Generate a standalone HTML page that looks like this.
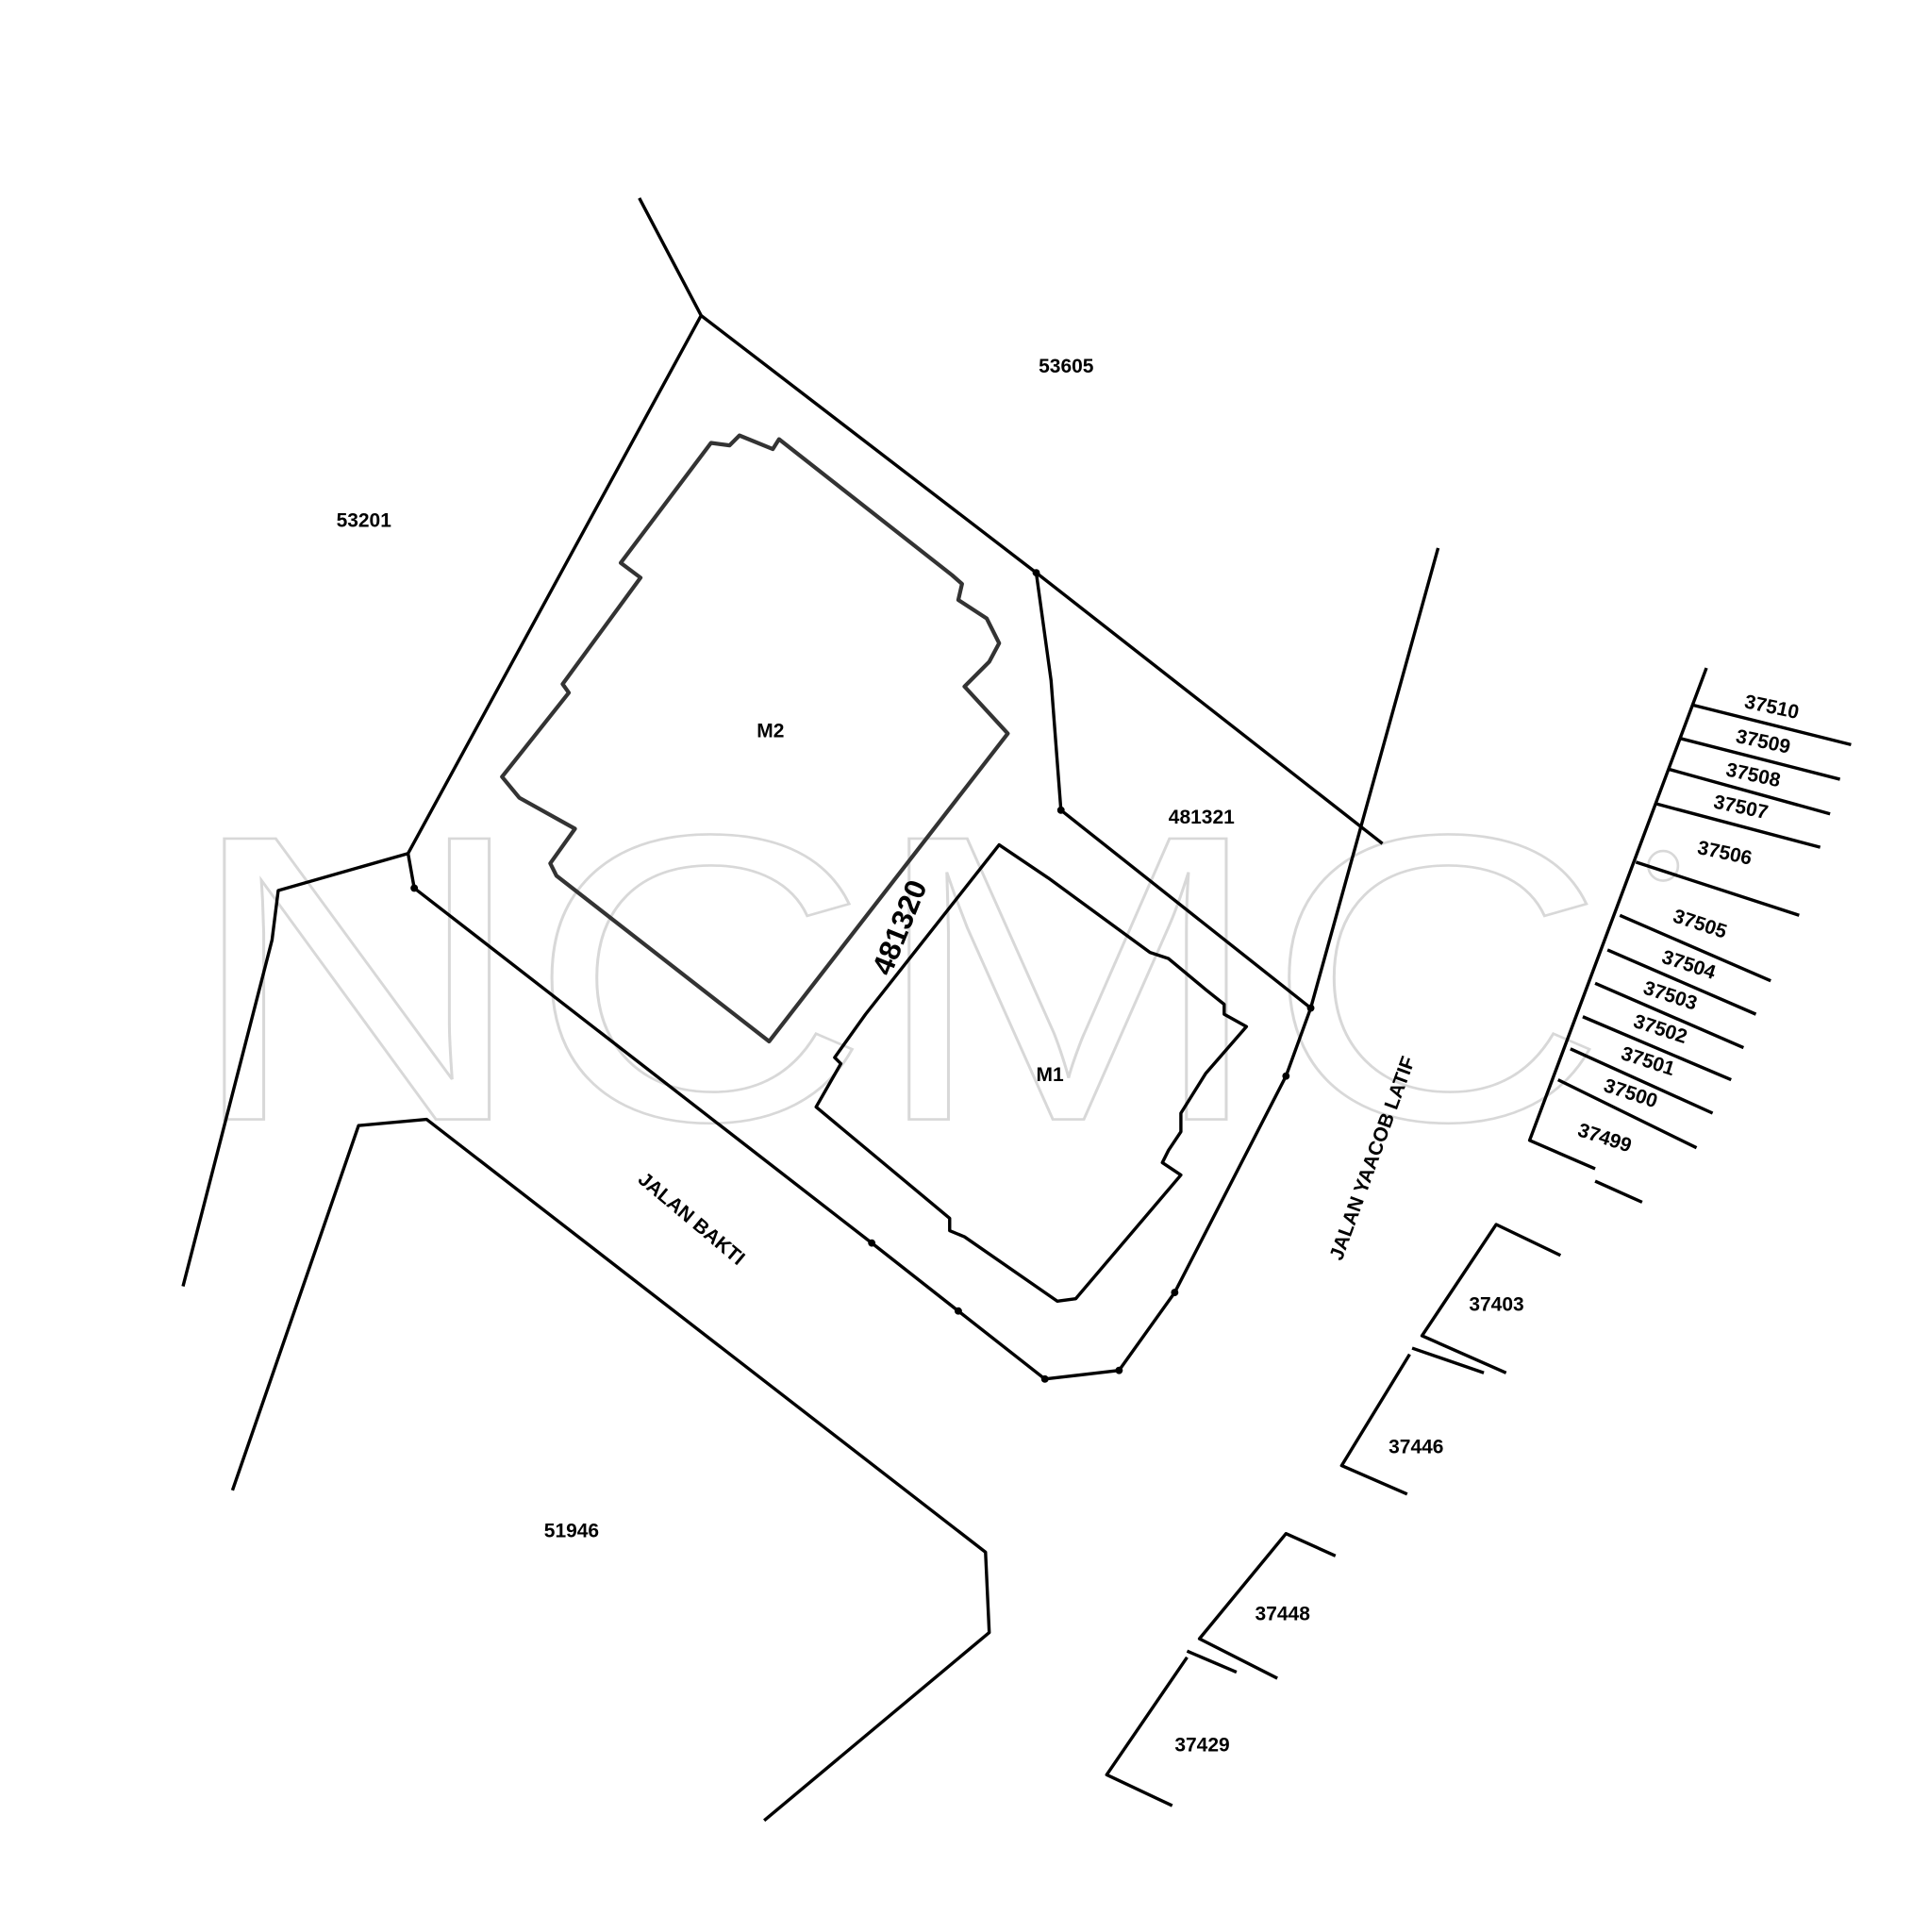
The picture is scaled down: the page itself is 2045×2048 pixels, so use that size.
<!DOCTYPE html>
<html><head><meta charset="utf-8"><style>
html,body{margin:0;padding:0;background:#fff}
svg{display:block}
text{font-family:"Liberation Sans",sans-serif;font-weight:bold;fill:#000}
</style></head><body>
<svg width="2045" height="2048" viewBox="0 0 1560 1562" xmlns="http://www.w3.org/2000/svg">
<rect width="1560" height="1562" fill="#fff"/>
<!-- watermark -->
<g fill="none" stroke="#d8d8d8" stroke-width="2">
<text x="150" y="905" font-size="330" textLength="1150" lengthAdjust="spacingAndGlyphs" style="fill:none;stroke:#d8d8d8;stroke-width:2;font-weight:normal">NCMC</text>
<circle cx="1345" cy="700" r="12"/>
</g>
<g fill="none" stroke="#000" stroke-width="2.6" stroke-linejoin="round">
<!-- top lines -->
<polyline points="517,160 567,255 838,463 1118,682"/>
<polyline points="567,255 330,690 225,720 220,760 148,1040"/>
<polyline points="330,690 335,718 705,1005 775,1060 845,1115 905,1108 950,1045 1040,870 1060,815 1163,443"/>
<polyline points="838,463 850,550 858,655 1060,815"/>
<!-- lower left parcel -->
<polyline points="188,1205 290,910 345,905 797,1255 800,1320 618,1472"/>
<!-- building M2 -->
<polygon stroke="#333" stroke-width="3.2" points="406,628 460,560 455,553 518,467 502,455 575,358 590,360 598,352 625,363 630,355 770,465 778,472 775,485 798,500 808,520 800,535 780,555 815,593 622,842 450,708 445,698 465,670 420,645"/>
<!-- building M1 -->
<polygon points="808,683 848,710 930,770 945,775 975,800 990,812 990,820 1008,830 975,868 955,900 955,915 945,930 940,940 955,950 870,1050 855,1052 780,1000 768,995 768,985 660,895 680,860 675,855 700,820"/>
<!-- right spine -->
<polyline points="1380,540 1237,922 1290,945"/>
<polyline points="1290,955 1328,972"/>
<line x1="1369" y1="570" x2="1497" y2="602"/>
<line x1="1359" y1="597" x2="1488" y2="630"/>
<line x1="1350" y1="622" x2="1480" y2="658"/>
<line x1="1340" y1="650" x2="1472" y2="685"/>
<line x1="1323" y1="697" x2="1455" y2="740"/>
<line x1="1310" y1="740" x2="1432" y2="793"/>
<line x1="1300" y1="768" x2="1420" y2="820"/>
<line x1="1290" y1="795" x2="1410" y2="847"/>
<line x1="1280" y1="822" x2="1400" y2="873"/>
<line x1="1270" y1="848" x2="1385" y2="900"/>
<line x1="1260" y1="873" x2="1372" y2="928"/>
<!-- bottom lots -->
<polyline points="1262,1015 1210,990 1150,1080 1218,1110"/>
<line x1="1142" y1="1090" x2="1200" y2="1110"/>
<polyline points="1140,1095 1085,1185 1138,1208"/>
<polyline points="1080,1258 1040,1240 970,1325 1033,1357"/>
<line x1="960" y1="1335" x2="1000" y2="1352"/>
<polyline points="960,1340 895,1435 948,1460"/>
</g>
<g fill="#000">
<circle cx="838" cy="463" r="3"/><circle cx="858" cy="655" r="3"/><circle cx="335" cy="718" r="3"/>
<circle cx="705" cy="1005" r="3"/><circle cx="775" cy="1060" r="3"/><circle cx="845" cy="1115" r="3"/>
<circle cx="905" cy="1108" r="3"/><circle cx="950" cy="1045" r="3"/><circle cx="1040" cy="870" r="3"/><circle cx="1060" cy="815" r="3"/>
</g>
<g font-size="16">
<text x="840" y="301">53605</text>
<text x="272" y="426">53201</text>
<text x="945" y="666">481321</text>
<text x="612" y="596">M2</text>
<text x="838" y="874">M1</text>
<text x="440" y="1243">51946</text>
<text x="1188" y="1060">37403</text>
<text x="1123" y="1175">37446</text>
<text x="1015" y="1310">37448</text>
<text x="950" y="1416">37429</text>
<text font-size="24" transform="translate(720,790) rotate(-68)">481320</text>
<text transform="translate(515,955) rotate(40)">JALAN BAKTI</text>
<text transform="translate(1085,1020) rotate(-70)">JALAN YAACOB LATIF</text>
</g>
<g font-size="16">
<text transform="translate(1410,572) rotate(12)">37510</text>
<text transform="translate(1403,600) rotate(12)">37509</text>
<text transform="translate(1395,627) rotate(12)">37508</text>
<text transform="translate(1385,653) rotate(12)">37507</text>
<text transform="translate(1372,690) rotate(12)">37506</text>
<text transform="translate(1352,745) rotate(18)">37505</text>
<text transform="translate(1343,778) rotate(18)">37504</text>
<text transform="translate(1328,803) rotate(18)">37503</text>
<text transform="translate(1320,830) rotate(18)">37502</text>
<text transform="translate(1310,856) rotate(18)">37501</text>
<text transform="translate(1296,882) rotate(18)">37500</text>
<text transform="translate(1275,918) rotate(18)">37499</text>
</g>
</svg>
</body></html>
